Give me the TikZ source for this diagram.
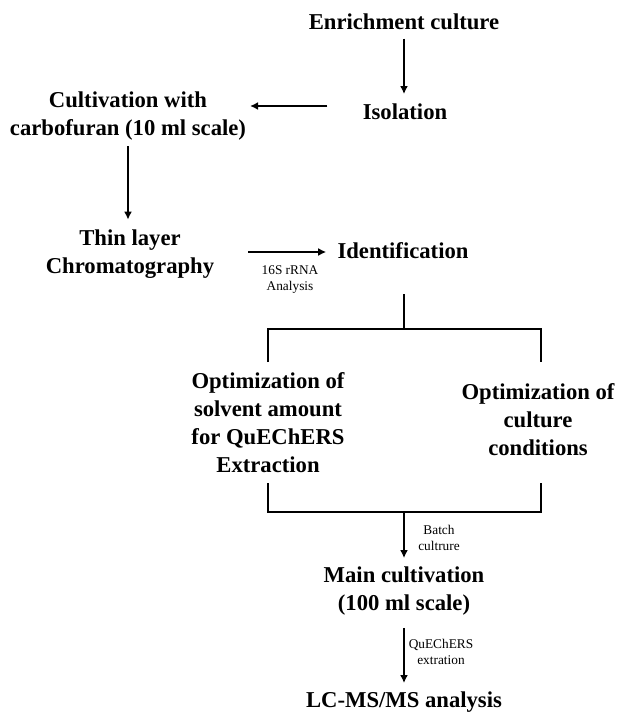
\documentclass[tikz,border=0pt]{standalone}
\usepackage{fontspec}
\setmainfont{Liberation Serif}
\usetikzlibrary{arrows.meta}

\tikzset{every picture/.style={line width=1.5pt}}
\tikzset{
  stage/.style={align=center,inner sep=0.75pt,font=\fontsize{17}{21}\selectfont\bfseries},
  note/.style={align=center,inner sep=0.75pt,font=\fontsize{10}{12}\selectfont},
  flow/.style={-{Latex[length=6pt,width=6pt]}}
}

\begin{document}
\begin{tikzpicture}[x=0.75pt,y=0.75pt,yscale=-1,xscale=1]
\path[use as bounding box] (0,0) rectangle (629,720);

% Stages
\node[stage] (enrich) at (404,22) {Enrichment culture};
\node[stage] (iso) at (405,112) {Isolation};
\node[stage] (cult) at (128,116) {Cultivation with\\carbofuran (10 ml scale)};
\node[stage] (thin) at (130,254) {Thin layer\\Chromatography};
\node[stage] (ident) at (403,251) {Identification};
\node[stage] (optL) at (268,423) {Optimization of\\solvent amount\\for QuEChERS\\Extraction};
\node[stage] (optR) at (538,420) {Optimization of\\culture\\conditions};
\node[stage] (main) at (404,591) {Main cultivation\\(100 ml scale)};
\node[stage] (lcms) at (404,702) {LC-MS/MS analysis};

% Notes on the arrows
\node[note] (rna) at (290,280) {16S rRNA\\Analysis};
\node[note] (batch) at (439,538) {Batch\\cultrure};
\node[note] (quech) at (441,652) {QuEChERS\\extration};

% Branch and join points
\coordinate (isoW) at ([yshift=-4.5pt]iso.west);
\coordinate (identW) at ([yshift=0.75pt]ident.west);
\coordinate (split) at (404,329);
\coordinate (splitL) at (268,362);
\coordinate (splitR) at (541,362);
\coordinate (joinL) at (268,483);
\coordinate (joinR) at (541,483);
\coordinate (join) at (404,512);

% Arrows
\draw[flow,shorten <=5pt,shorten >=6pt] (enrich.south) -- (enrich.south |- iso.north);
\draw[flow,shorten <=25pt,shorten >=1.5pt] (isoW) -- (isoW -| cult.east);
\draw[flow,shorten <=3pt,shorten >=6pt] (cult.south) -- (cult.south |- thin.north);
\draw[flow,shorten <=24pt,shorten >=7pt] (identW -| thin.east) -- (identW);

%Split after identification
\draw[shorten <=25pt] (split |- ident.south) -- (split);
\draw (splitL) |- (split) -| (splitR);

%Join before main cultivation
\draw (joinL) |- (join) -| (joinR);
\draw[flow,shorten >=5pt] (join) -- (main);
\draw[flow,shorten <=8pt,shorten >=5pt] (main) -- (lcms);

\end{tikzpicture}
\end{document}
